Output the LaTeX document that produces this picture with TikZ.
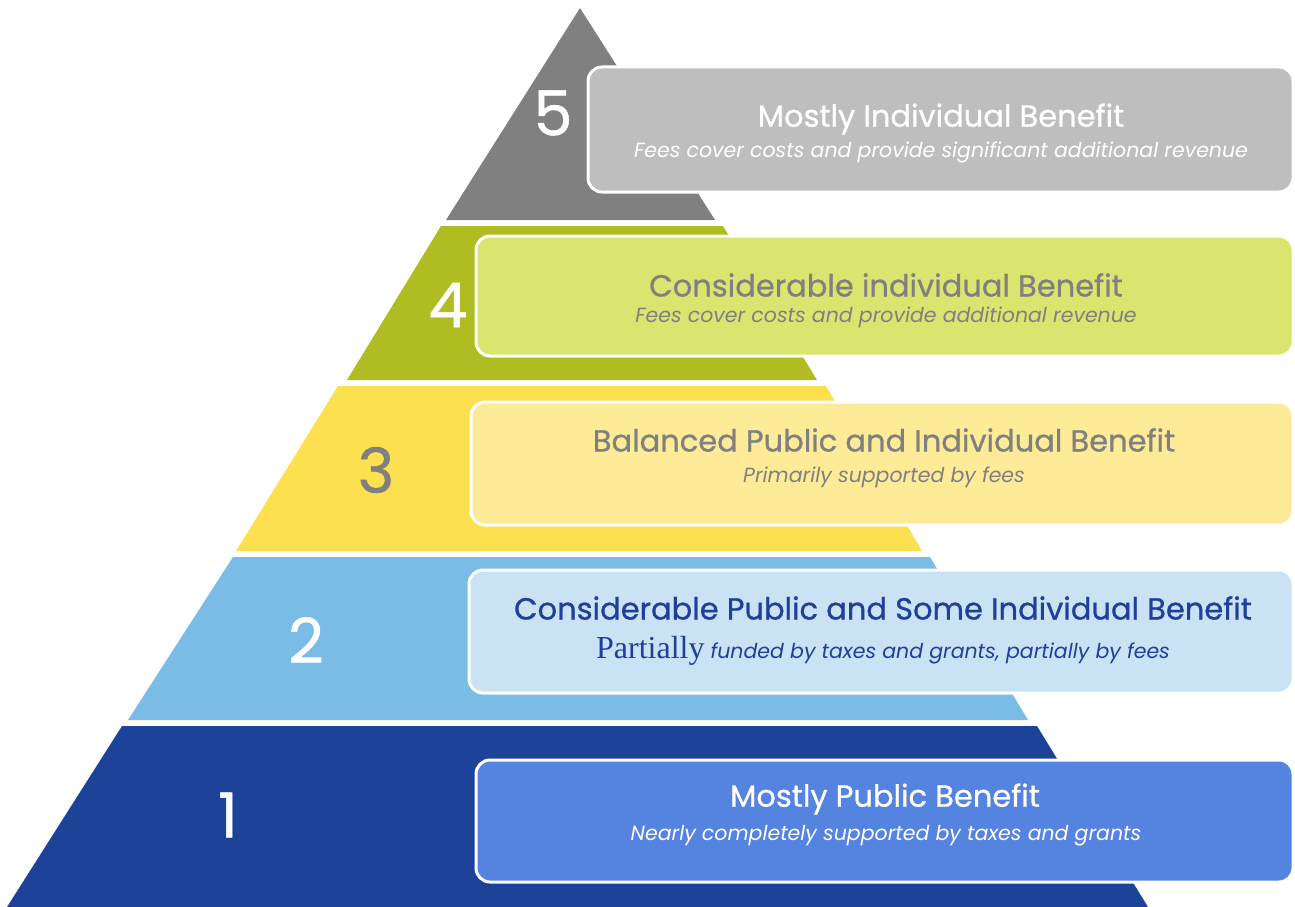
\documentclass[tikz,border=0pt]{standalone}
\usepackage{fontspec}
\setmainfont{Poppins}
\newfontfamily\medfont[FakeBold=0.8]{Poppins}
\newfontfamily\serifpart{Liberation Serif}
\definecolor{tfive}{HTML}{808080}
\definecolor{tfour}{HTML}{AFBD22}
\definecolor{tthree}{HTML}{FDE050}
\definecolor{ttwo}{HTML}{7BBCE6}
\definecolor{tone}{HTML}{1D4399}
\definecolor{bfive}{HTML}{BEBEBE}
\definecolor{bfour}{HTML}{DAE56F}
\definecolor{bthree}{HTML}{FDEB98}
\definecolor{btwo}{HTML}{C9E3F5}
\definecolor{bone}{HTML}{5583E0}
\definecolor{txgray}{HTML}{808080}
\definecolor{txblue}{HTML}{1F3F99}
\tikzset{
  panel/.style={draw=white, line width=3pt, rounded corners=14pt},
  numlabel/.style={font=\medfont\fontsize{62}{62}\selectfont, inner sep=0pt},
  titletxt/.style={font=\medfont\fontsize{30.5}{30.5}\selectfont, inner sep=0pt},
  subtxt/.style={font=\fontsize{20.5}{20.5}\selectfont\itshape, inner sep=0pt},
}
\begin{document}
\begin{tikzpicture}[x=1pt,y=-1pt]
\useasboundingbox (0,0) rectangle (1295,907);
% tiers
\fill[tfive] (580,8) -- (715,220) -- (446,220) -- cycle;
\fill[tfour] (441,226) -- (723,226) -- (817,380) -- (347,380) -- cycle;
\fill[tthree] (338,386) -- (826,386) -- (922,551) -- (236,551) -- cycle;
\fill[ttwo] (233,557) -- (930,557) -- (1028,720) -- (128,720) -- cycle;
\fill[tone] (122,726) -- (1037,726) -- (1148,907) -- (7,907) -- cycle;
% panels
\draw[panel, fill=bfive] (588,67) rectangle (1293,192);
\draw[panel, fill=bfour] (476,236) rectangle (1293,356);
\draw[panel, fill=bthree] (471,402) rectangle (1293,525);
\draw[panel, fill=btwo] (469,570) rectangle (1293,693);
\draw[panel, fill=bone] (476,760) rectangle (1293,882);
% numbers
\node[numlabel, text=white] (n5) at (553,113) {5};
\node[numlabel, text=white] (n4) at (448,305) {4};
\node[numlabel, text=txgray] (n3) at (376,470) {3};
\node[numlabel, text=white] (n2) at (306,640) {2};
\node[numlabel, text=white] (n1) at (228,815) {1};
% texts
\node[titletxt, text=white] (t5) at (941,119) {Mostly Individual Benefit};
\node[subtxt, text=white] (s5) at (941,152) {Fees cover costs and provide significant additional revenue};
\node[titletxt, text=txgray] (t4) at (886,285) {Considerable individual Benefit};
\node[subtxt, text=txgray] (s4) at (886,317) {Fees cover costs and provide additional revenue};
\node[titletxt, text=txgray] (t3) at (884,440) {Balanced Public and Individual Benefit};
\node[subtxt, text=txgray] (s3) at (884,477) {Primarily supported by fees};
\node[titletxt, text=txblue] (t2) at (883,608) {Considerable Public and Some Individual Benefit};
\node[subtxt, text=txblue] (s2) at (883,651) {{\serifpart\upshape\fontsize{32}{32}\selectfont Partially} funded by taxes and grants, partially by fees};
\node[titletxt, text=white] (t1) at (885,799) {Mostly Public Benefit};
\node[subtxt, text=white] (s1) at (886,836) {Nearly completely supported by taxes and grants};
\end{tikzpicture}
\end{document}
